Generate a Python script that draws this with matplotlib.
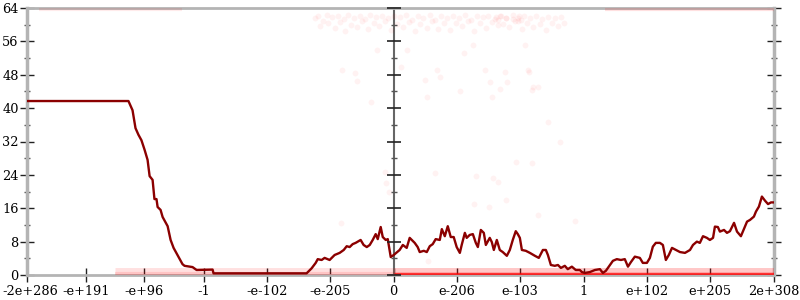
import matplotlib
matplotlib.use("Agg")
import matplotlib.pyplot as plt
import matplotlib.transforms as mtransforms
import numpy as np

plt.rcParams["font.family"] = ["DejaVu Serif"]

# x axis: signed biased exponent of the float (ordinal position), 0 in the middle
tick_labels = ["-2e+286", "-e+191", "-e+96", "-1", "-e-102", "-e-205", "0",
               "e-206", "e-103", "1", "e+102", "e+205", "2e+308"]
tick_sign = [-1, -1, -1, -1, -1, -1, 0, 1, 1, 1, 1, 1, 1]
tick_log10 = [286.301, 191, 96, 0, -102, -205, 0, -206, -103, 0, 102, 205, 308.301]

# main line: bits of error (mean), sampled along the exponent axis
line_x = [-1974, -1428, -1406, -1390, -1374, -1358, -1341, -1325, -1314, -1298,
          -1288, -1277, -1271, -1255, -1244, -1217, -1201, -1185, -1164, -1137,
          -1126, -1083, -1061, -975, -970, -469, -442, -420, -409, -388, -372,
          -345, -318, -291, -269, -253, -237, -221, -205, -178, -162, -145,
          -129, -113, -97, -86, -70, -59, -43, -32, -16, 0, 32, 49, 70, 86, 97,
          113, 129, 140, 162, 178, 194, 210, 226, 248, 259, 275, 291, 307, 323,
          339, 356, 366, 383, 393, 409, 426, 442, 453, 469, 485, 496, 517, 528,
          539, 555, 571, 587, 609, 625, 641, 657, 668, 679, 690, 711, 733, 760,
          781, 803, 819, 830, 846, 867, 884, 900, 921, 937, 959, 980, 1002,
          1013, 1029, 1056, 1083, 1110, 1126, 1142, 1164, 1180, 1201, 1223,
          1244, 1261, 1277, 1298, 1325, 1341, 1363, 1379, 1395, 1411, 1433,
          1449, 1465, 1481, 1498, 1519, 1541, 1568, 1595, 1611, 1632, 1648,
          1665, 1686, 1702, 1719, 1729, 1745, 1756, 1778, 1794, 1810, 1832,
          1848, 1869, 1885, 1902, 1918, 1939, 1950, 1966, 1982, 1999, 2015,
          2031, 2047]
line_y = [41.7, 41.7, 39.5, 35.2, 33.6, 32.3, 30.0, 27.6, 23.7, 22.8,
          18.2, 18.2, 16.3, 15.6, 13.9, 11.7, 8.4, 6.5, 4.8, 2.6,
          2.2, 1.9, 1.2, 1.3, 0.4, 0.4, 1.6, 2.9, 3.8, 3.6, 4.1,
          3.6, 4.8, 5.3, 6.0, 6.9, 6.7, 7.4, 7.7, 8.4, 7.2, 6.7,
          7.2, 8.4, 9.8, 8.6, 11.5, 9.1, 8.4, 8.6, 4.3, 4.8, 6.0, 7.2, 6.5, 8.9, 8.4,
          7.7, 6.7, 5.5, 5.8, 5.5, 6.9, 7.4, 8.6, 8.4, 11.0, 9.3, 11.7, 9.1, 9.1,
          6.7, 5.3, 7.2, 10.1, 8.9, 9.6, 9.8, 7.7, 6.7, 10.8, 10.1, 7.2, 8.9, 7.9,
          6.0, 8.4, 6.0, 5.5, 4.6, 6.0, 8.4, 10.5, 9.8, 8.9, 6.0, 5.8, 5.3, 4.6,
          4.1, 6.0, 6.0, 4.8, 2.4, 2.2, 2.4, 1.7, 2.2, 1.4, 2.0, 1.2, 1.2,
          0.7, 0.5, 0.7, 1.2, 1.4, 0.5, 1.0, 2.4, 3.4, 3.8, 3.6,
          3.8, 2.0, 3.1, 4.4, 4.1, 2.9, 2.9, 4.1, 6.8, 7.7, 7.7,
          7.2, 3.6, 4.8, 6.5, 6.0, 5.5, 5.3, 6.0, 7.2, 8.0, 7.7,
          9.3, 8.9, 8.4, 8.9, 11.6, 11.5, 10.4, 10.8, 10.1, 10.5, 12.5,
          10.4, 9.3, 11.0, 12.8, 13.2, 14.0, 15.2, 16.4, 18.8, 17.8, 17.0,
          17.4, 17.4]

# faint scatter of individual samples near the top
top_x = [-425, -410, -398, -381, -360, -352, -333, -318, -301, -287, -270, -262,
         -244, -231, -215, -198, -184, -170, -152, -141, -126, -108, -95, -77,
         -63, -49, -30, -14, 3, 18, 35, 51, 66, 83, 97, 112, 130, 144, 160, 177,
         193, 208, 224, 241, 257, 270, 288, 303, 318, 336, 351, 367, 384, 398,
         415, 431, 447, 462, 479, 495, 510, 527, 543, 560, 575, 590, 607, 622,
         640, 655, 671, 688, 703, 720, 736, 752, 768, 785, 800, 818, 833, 850,
         866, 882, 900, 915, 548, 562, 571, 668, 676, 684, 640, 602]
top_y = [61.5, 62.2, 59.8, 61.0, 62.4, 60.3, 61.8, 59.1, 62.0, 60.6, 61.4, 58.4,
         62.3, 60.0, 61.7, 59.4, 62.1, 60.8, 61.3, 58.9, 62.4, 60.4, 61.9, 59.7,
         62.2, 60.9, 61.5, 58.7, 62.0, 60.2, 61.8, 59.5, 62.3, 60.7, 61.2, 58.6,
         62.1, 60.1, 61.6, 59.3, 62.4, 60.8, 61.1, 59.0, 62.2, 60.5, 61.7, 58.8,
         62.0, 60.3, 61.5, 59.6, 62.3, 60.9, 61.2, 58.5, 62.1, 60.4, 61.8, 59.2,
         62.2, 60.7, 61.4, 59.9, 62.0, 60.2, 61.6, 59.4, 62.3, 60.8, 61.0, 58.9,
         62.1, 60.5, 61.7, 59.5, 62.0, 60.1, 61.3, 58.7, 61.9, 60.4, 61.5, 59.6,
         61.8, 60.3, 61.9, 61.2, 62.2, 61.6, 62.0, 61.1, 61.4, 61.7]
sparse_x = [-280, -210, -199, -92, 38, 70, 178, 232, 248, 377, 426, 490, 517,
            528, 571, 598, 609, 706, 722, 727, 743, 749, 776, -48, -43, -27,
            -285, 221, 442, 533, 560, 743, 657, 776, 512, 431, 603, 975, -124,
            167, 830, 894, 355, 183]
sparse_y = [49.1, 48.4, 46.5, 53.9, 49.9, 53.9, 42.7, 49.1, 47.5, 53.2, 55.1,
            49.1, 46.3, 42.7, 44.6, 48.7, 46.3, 55.1, 49.1, 48.7, 44.3, 45.1,
            45.1, 24.7, 22.0, 19.9, 12.5, 24.4, 23.7, 23.2, 22.3, 26.8, 27.0,
            14.4, 16.3, 17.0, 18.0, 13.0, 41.5, 46.7, 36.7, 32.0, 44.0, 3.4]

# dense rows of samples drawn as translucent bands: (start, end, value, alpha, width)
bands = [(-1907, -1142, 63.7, 0.08, 3),
         (1137, 2047, 63.7, 0.12, 3),
         (-1500, 0, 1.0, 0.12, 5),
         (-1500, 0, 0.2, 0.12, 3),
         (0, 2047, 1.0, 0.22, 5),
         (0, 2047, 0.15, 0.75, 2.5)]


def exp_pos(sign, log10):
    if sign == 0:
        return 0.0
    return sign * (log10 * np.log2(10) + 1023)


tick_pos = [exp_pos(s, l) for s, l in zip(tick_sign, tick_log10)]

fig = plt.figure(figsize=(8, 3), dpi=100)
ax = fig.add_axes([27 / 800, 25 / 300, 747 / 800, 267 / 300])

for x0, x1, yv, a, w in bands:
    ax.plot([x0, x1], [yv, yv], color="red", alpha=a, lw=w,
            solid_capstyle="butt", zorder=3)
ax.scatter(top_x, top_y, s=18, color="red", alpha=0.05, lw=0, zorder=3)
ax.scatter(sparse_x, sparse_y, s=18, color="red", alpha=0.05, lw=0, zorder=3)

ax.plot(line_x, line_y, color="#8b0000", lw=1.7, zorder=4)

ax.set_xlim(tick_pos[0], tick_pos[-1])
ax.set_ylim(0, 64)
ax.set_xticks(tick_pos)
ax.set_xticklabels(tick_labels)
ax.set_yticks(np.arange(0, 65, 8))
ax.set_yticks(np.arange(0, 65, 4), minor=True)

gray = "#b4b4b4"
for side in ["left", "right", "top", "bottom"]:
    ax.spines[side].set_color(gray)
ax.spines["left"].set_linewidth(2.5)
ax.spines["right"].set_linewidth(2.5)
ax.spines["top"].set_linewidth(2)
ax.spines["bottom"].set_linewidth(2)

ax.tick_params(axis="both", which="major", direction="inout", length=10,
               width=1, color="#222222", labelsize=9.3, pad=1)
ax.tick_params(axis="y", which="both", right=True)
ax.tick_params(axis="y", which="minor", direction="inout", length=5,
               width=1, color="#555555")
ax.tick_params(axis="x", pad=2)

# keep the first label inside the figure
first = ax.get_xticklabels()[0]
first.set_transform(first.get_transform()
                    + mtransforms.ScaledTranslation(3 / 100, 0, fig.dpi_scale_trans))

# middle axis at zero with its own ticks
ax.axvline(0, color="#666666", lw=1.5, zorder=2)
ax.plot([0] * 9, np.arange(0, 65, 8), ls="none", marker="_", ms=10,
        mew=1.2, color="#222222", clip_on=False, zorder=5)
ax.plot([0] * 8, np.arange(4, 65, 8), ls="none", marker="_", ms=5,
        mew=1, color="#555555", clip_on=False, zorder=5)

fig.savefig("out.png", dpi=100)
